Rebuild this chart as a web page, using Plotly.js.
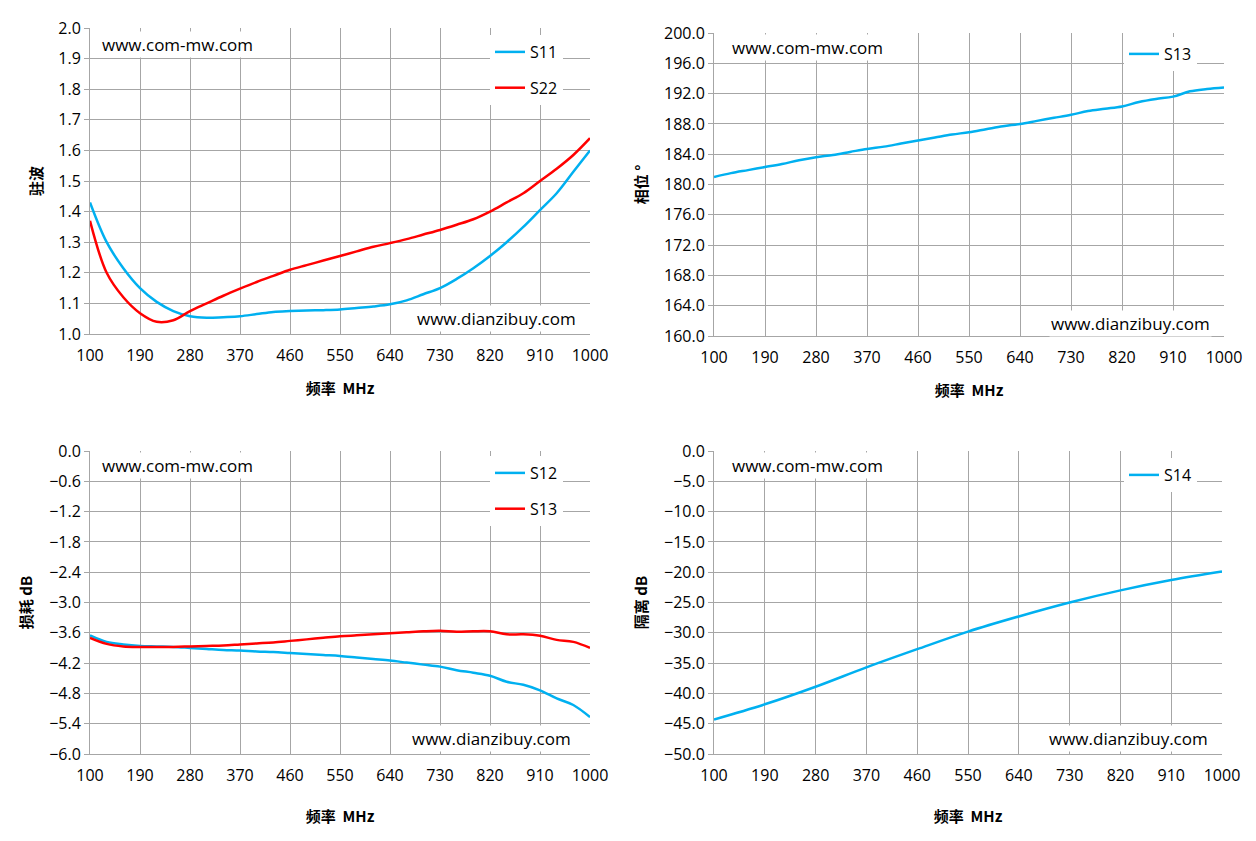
<!DOCTYPE html>
<html>
<head>
<meta charset="utf-8">
<script src="https://cdn.plot.ly/plotly-3.0.1.min.js"></script>
<style>body{margin:0;background:#fff}#myDiv{width:1256px;height:841px}</style>
</head>
<body>
<div id="myDiv"></div>
<script>
// frequency grid, MHz
const freq = [100,130,160,190,220,250,280,310,340,370,400,430,460,490,520,550,580,610,640,670,700,730,760,790,820,850,880,910,940,970,1000];
const freqCoarse = [100,190,280,370,460,550,640,730,820,910,1000];

// VSWR
const s11Vswr = [1.43,1.30,1.215,1.15,1.105,1.075,1.058,1.053,1.055,1.058,1.065,1.072,1.075,1.077,1.078,1.08,1.085,1.09,1.097,1.11,1.13,1.15,1.18,1.215,1.255,1.30,1.35,1.405,1.46,1.53,1.60];
const s22Vswr = [1.37,1.20,1.12,1.068,1.04,1.045,1.075,1.10,1.125,1.148,1.17,1.19,1.21,1.225,1.24,1.255,1.27,1.285,1.297,1.31,1.325,1.34,1.357,1.375,1.40,1.43,1.46,1.50,1.54,1.585,1.64];
// phase, deg
const s13Phase = [181.0,181.5,181.9,182.3,182.7,183.2,183.6,183.9,184.3,184.7,185.0,185.4,185.8,186.2,186.6,186.9,187.3,187.7,188.0,188.4,188.8,189.2,189.7,190.0,190.3,190.9,191.3,191.6,192.3,192.6,192.8];
// insertion loss, dB
const s12Loss = [-3.65,-3.78,-3.83,-3.86,-3.87,-3.88,-3.90,-3.92,-3.94,-3.95,-3.97,-3.98,-4.00,-4.02,-4.04,-4.06,-4.09,-4.12,-4.15,-4.19,-4.23,-4.27,-4.34,-4.39,-4.45,-4.57,-4.63,-4.74,-4.90,-5.03,-5.27];
const s13Loss = [-3.70,-3.82,-3.87,-3.88,-3.88,-3.88,-3.87,-3.86,-3.85,-3.83,-3.81,-3.79,-3.76,-3.73,-3.70,-3.67,-3.65,-3.63,-3.61,-3.59,-3.57,-3.56,-3.58,-3.57,-3.57,-3.63,-3.63,-3.66,-3.74,-3.78,-3.90];
// isolation, dB
const s14Iso = [-44.3,-41.8,-38.9,-35.7,-32.7,-29.8,-27.3,-25.0,-23.0,-21.3,-19.9];

const BLUE = '#00b0f0', RED = '#ff0000';
const tickFont = {family: 'Open Sans, Liberation Sans, sans-serif', size: 16, color: '#000'};
const titleFont = {family: 'Noto Sans CJK SC, serif', size: 15, color: '#000', weight: 'bold'};

function line(x, y, name, color, xa, ya, leg, group) {
  return {x: x, y: y, name: name, type: 'scatter', mode: 'lines', line: {color: color, width: 2.5, shape: 'spline'},
          xaxis: xa, yaxis: ya, legend: leg, legendgroup: group};
}

const data = [
  line(freq, s11Vswr, 'S11', BLUE, 'x', 'y', 'legend', 'a'),
  line(freq, s22Vswr, 'S22', RED, 'x', 'y', 'legend', 'b'),
  line(freq, s13Phase, 'S13', BLUE, 'x2', 'y2', 'legend2', 'c'),
  line(freq, s12Loss, 'S12', BLUE, 'x3', 'y3', 'legend3', 'd'),
  line(freq, s13Loss, 'S13', RED, 'x3', 'y3', 'legend3', 'e'),
  line(freqCoarse, s14Iso, 'S14', BLUE, 'x4', 'y4', 'legend4', 'f')
];

const W = 1256, H = 841;
const px = v => v / W, py = v => 1 - v / H;

function xax(l, r, anchor, title, standoff) {
  return {domain: [px(l), px(r)], anchor: anchor, range: [100, 1000], tickvals: [100,190,280,370,460,550,640,730,820,910,1000],
          showgrid: true, gridcolor: '#a6a6a6', linecolor: '#a6a6a6', showline: true, ticks: 'outside', ticklen: 7, tickcolor: '#fff',
          tickfont: tickFont, zeroline: false, title: {text: title, font: titleFont, standoff: standoff}};
}
function yax(t, b, anchor, min, max, step, title) {
  return {domain: [py(b), py(t)], anchor: anchor, range: [min, max], dtick: step, tick0: min, tickformat: '.1f',
          showgrid: true, gridcolor: '#a6a6a6', linecolor: '#a6a6a6', showline: true, ticks: 'outside', ticklen: 5, tickcolor: '#a6a6a6',
          tickfont: tickFont, zeroline: false, title: {text: title, font: titleFont, standoff: 12}};
}
function leg(x, y) {
  return {x: px(x), y: py(y), xanchor: 'left', yanchor: 'top', bgcolor: '#fff', font: tickFont,
          traceorder: 'grouped', tracegroupgap: 12, itemwidth: 30};
}
function note(text, x, y, anchor) {
  return {text: text, xref: 'paper', yref: 'paper', x: px(x), y: py(y), xanchor: anchor, yanchor: 'middle',
          showarrow: false, bgcolor: '#fff', font: {family: 'Open Sans, sans-serif', size: 17, color: '#000'}};
}

const layout = {
  width: W, height: H, margin: {l: 0, r: 0, t: 0, b: 0}, paper_bgcolor: '#fff', plot_bgcolor: '#fff',
  xaxis: xax(90, 590, 'y', '频率  MHz', 18),
  yaxis: yax(28, 334, 'x', 1.0, 2.0, 0.1, '驻波'),
  xaxis2: xax(714, 1224, 'y2', '频率  MHz', 18),
  yaxis2: yax(33, 336, 'x2', 160, 200, 4, '相位 °'),
  xaxis3: xax(90, 590, 'y3', '频率  MHz', 26),
  yaxis3: yax(451, 754, 'x3', -6, 0, 0.6, '损耗 dB'),
  xaxis4: xax(714, 1222, 'y4', '频率  MHz', 26),
  yaxis4: yax(451, 754, 'x4', -50, 0, 5, '隔离 dB'),
  legend: leg(490, 35),
  legend2: leg(1124, 37),
  legend3: leg(490, 456),
  legend4: leg(1124, 458),
  annotations: [
    note('www.com-mw.com', 100, 44, 'left'),
    note('www.dianzibuy.com', 578, 318, 'right'),
    note('www.com-mw.com', 730, 47, 'left'),
    note('www.dianzibuy.com', 1212, 323, 'right'),
    note('www.com-mw.com', 100, 465, 'left'),
    note('www.dianzibuy.com', 573, 738, 'right'),
    note('www.com-mw.com', 730, 465, 'left'),
    note('www.dianzibuy.com', 1210, 738, 'right')
  ]
};

Plotly.newPlot('myDiv', data, layout, {displayModeBar: false});
</script>
</body>
</html>
